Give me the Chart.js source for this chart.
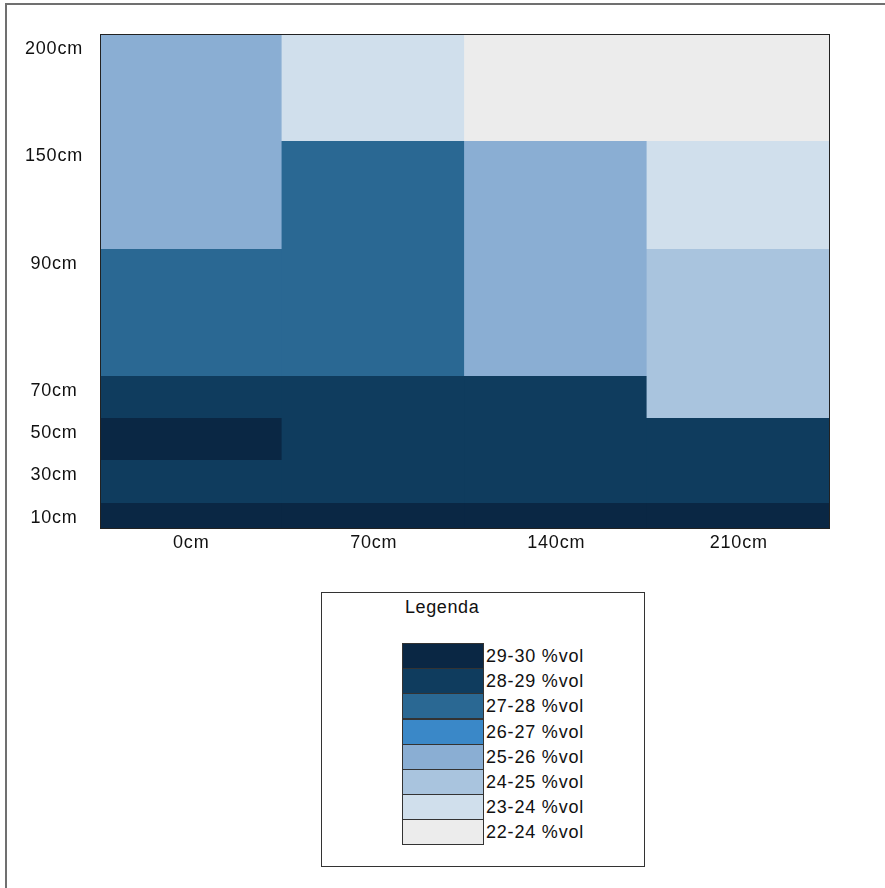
<!DOCTYPE html>
<html>
<head>
<meta charset="utf-8">
<script src="https://cdn.jsdelivr.net/npm/chart.js@4"></script>
<style>
  html, body { margin: 0; padding: 0; background: #fff; }
  body { width: 885px; height: 888px; position: relative; overflow: hidden; font-family: "Liberation Sans", Arial, sans-serif; }
  #frame { position: absolute; left: 5px; top: 3px; width: 900px; height: 900px; border-left: 2px solid #707070; border-top: 2px solid #707070; }
  #chart { position: absolute; left: 0; top: 0; }
  #legend { position: absolute; left: 321px; top: 592px; width: 322px; height: 273px; border: 1px solid #333; }
  #legend .title { position: absolute; left: 83px; top: 4px; font-size: 18px; color: #111; letter-spacing: 0.6px; }
  #legend .row { position: absolute; left: 80px; height: 25px; }
  #legend .swatch { position: absolute; left: 0; top: 0; width: 80px; height: 24px; border: 1px solid #333; }
  #legend .label { position: absolute; left: 84px; top: 3px; font-size: 18px; color: #111; white-space: nowrap; letter-spacing: 0.8px; }
</style>
</head>
<body>
<div id="frame"></div>
<canvas id="chart" width="885" height="570"></canvas>
<div id="legend"><div class="title">Legenda</div></div>
<script>
// columns (distance) and rows (depth, bottom to top)
const distances = ['0cm', '70cm', '140cm', '210cm'];
const depths = ['10cm', '30cm', '50cm', '70cm', '90cm', '150cm', '200cm'];
// relative height each depth row takes in the profile
const rowSpan = [25, 43, 42, 42, 127, 108, 107];

// soil moisture (%vol) per depth, one value per distance
const moist10 = [29.5, 29.5, 29.5, 29.5];
const moist30 = [28.5, 28.5, 28.5, 28.5];
const moist50 = [29.5, 28.5, 28.5, 28.5];
const moist70 = [28.5, 28.5, 28.5, 24.5];
const moist90 = [27.5, 27.5, 25.5, 24.5];
const moist150 = [25.5, 27.5, 25.5, 23.5];
const moist200 = [25.5, 23.5, 22.5, 22.5];
const moisture = [moist10, moist30, moist50, moist70, moist90, moist150, moist200];

// legend classes
const classLabels = ['29-30 %vol', '28-29 %vol', '27-28 %vol', '26-27 %vol', '25-26 %vol', '24-25 %vol', '23-24 %vol', '22-24 %vol'];
const classLower = [29, 28, 27, 26, 25, 24, 23, 22];
const classColors = ['#0a2744', '#0f3c5e', '#2a6893', '#3a88c8', '#8aaed3', '#a9c4de', '#d0dfec', '#ececec'];

function colorFor(v) {
    const i = classLower.findIndex(lo => v >= lo);
    return classColors[i === -1 ? classColors.length - 1 : i];
}

// cumulative top of each row, used for the depth ticks
const rowTops = [];
rowSpan.reduce((sum, h) => { rowTops.push(sum + h); return sum + h; }, 0);
const total = rowTops[rowTops.length - 1];

const datasets = depths.map((d, i) => ({
    label: d,
    data: distances.map(() => rowSpan[i]),
    backgroundColor: moisture[i].map(colorFor),
    borderWidth: 0,
    barPercentage: 1.01, // slight overlap hides seams between columns
    categoryPercentage: 1.0,
}));

// frame around the plot area, and a bit wider text like the original
const plotBorder = {
    id: 'plotBorder',
    beforeDraw(chart) {
        chart.ctx.letterSpacing = '0.8px';
    },
    afterDatasetsDraw(chart) {
        const { ctx, chartArea: a } = chart;
        ctx.save();
        ctx.strokeStyle = '#222';
        ctx.lineWidth = 1;
        ctx.strokeRect(a.left + 0.5, a.top + 0.5, a.right - a.left - 1, a.bottom - a.top);
        ctx.restore();
    }
};

const ctx = document.getElementById('chart').getContext('2d');
new Chart(ctx, {
    type: 'bar',
    data: { labels: distances, datasets: datasets },
    options: {
        responsive: false,
        animation: false,
        layout: { padding: { top: 34, right: 55, left: 0, bottom: 0 } },
        scales: {
            x: {
                stacked: true,
                grid: { display: false, drawTicks: false },
                border: { display: false },
                ticks: { color: '#111', font: { family: 'Liberation Sans', size: 18 }, padding: 4 },
                afterFit: scale => { scale.height = 42; }
            },
            y: {
                stacked: true,
                min: 0,
                max: total,
                grid: { display: false, drawTicks: false },
                border: { display: false },
                afterBuildTicks: scale => { scale.ticks = rowTops.map(v => ({ value: v })); },
                ticks: {
                    color: '#111',
                    font: { family: 'Liberation Sans', size: 18 },
                    crossAlign: 'center',
                    padding: 19,
                    labelOffset: 15,
                    autoSkip: false,
                    callback: (value, index) => depths[index]
                },
                afterFit: scale => { scale.width = 100; }
            }
        },
        plugins: {
            legend: { display: false },
            tooltip: { enabled: false }
        }
    },
    plugins: [plotBorder]
});

// legend box built from the same classes
const legend = document.getElementById('legend');
classLabels.forEach((lbl, i) => {
    const row = document.createElement('div');
    row.className = 'row';
    row.style.top = (50 + i * 25.2) + 'px';
    row.innerHTML = '<div class="swatch" style="background:' + classColors[i] + '"></div><div class="label">' + lbl + '</div>';
    legend.appendChild(row);
});
</script>
</body>
</html>
